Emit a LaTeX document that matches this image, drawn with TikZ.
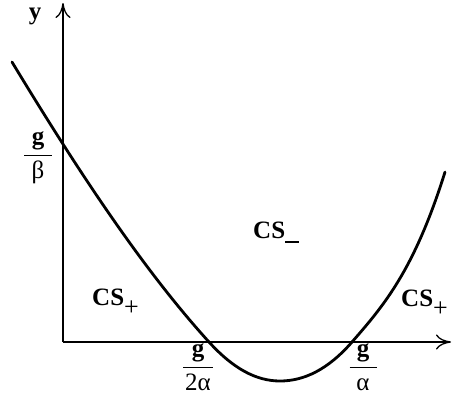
\documentclass[tikz,border=0pt]{standalone}
\usepackage{fontspec}
\setmainfont{Liberation Serif}
\usetikzlibrary{arrows.meta}
\begin{document}
\begin{tikzpicture}[x=1pt,y=-1pt,
  lbl/.style={font=\fontsize{25}{29}\selectfont\bfseries, inner sep=0pt},
  frc/.style={font=\fontsize{25}{29}\selectfont, inner sep=0pt, anchor=base},
  axis/.style={line width=1.3pt, -{To[length=15pt,width=15pt,line width=1.3pt]}},
  curve/.style={line width=2.8pt, line cap=round, line join=round}]
\useasboundingbox (0,0) rectangle (452,394);
\coordinate (O) at (63,342);
\coordinate (ytip) at (63,3);
\coordinate (xtip) at (451,342);
\draw[axis] (O) -- (ytip);
\draw[axis] (O) -- (xtip);
\node[lbl] (ylab) at (35,16) {y};
\node[lbl] (tlab) at (457,371) {t};
\coordinate (c0) at (12,62);
\coordinate (c1) at (209,342);
\coordinate (c2) at (280,381);
\coordinate (c3) at (352,342);
\coordinate (c4) at (445,172);
\draw[curve] (c0) .. controls (78,171) and (143,269.4) .. (c1)
  .. controls (233,368.4) and (256,381) .. (c2)
  .. controls (304,381) and (328,369.6) .. (c3)
  .. controls (383,306.4) and (414,271) .. (c4);
\node[frc] (fb) at (38,161) {$\displaystyle\frac{\makebox[28pt]{\bfseries g}}{\hbox{β}}$};
\node[frc] (f2a) at (198,373) {$\displaystyle\frac{\makebox[30pt]{\bfseries g}}{\hbox{2α}}$};
\node[frc] (fa) at (363,373) {$\displaystyle\frac{\makebox[27pt]{\bfseries g}}{\hbox{α}}$};
\node[lbl, anchor=base west] (csl) at (92,305) {CS\raisebox{-10pt}{\fontsize{26}{26}\selectfont\mdseries +}};
\node[lbl, anchor=base west] (csm) at (253,238) {CS\raisebox{-5pt}{\rule{14pt}{2pt}}};
\node[lbl, anchor=base west] (csr) at (401,306) {CS\raisebox{-10pt}{\fontsize{26}{26}\selectfont\mdseries +}};
\end{tikzpicture}
\end{document}
